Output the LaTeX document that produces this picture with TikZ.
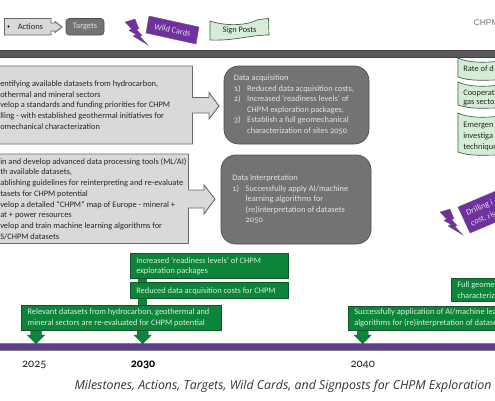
\documentclass[tikz,border=0pt]{standalone}
\usepackage{fontspec}
\setmainfont[Numbers=OldStyle]{Carlito}
\newfontfamily\captionfont{Open Sans}
\newfontfamily\titlefont{Liberation Sans}
\usepackage{tikz}
\definecolor{barGray}{RGB}{89, 89, 89}
\definecolor{actionGray}{RGB}{217, 217, 217}
\definecolor{actionEdge}{RGB}{105, 105, 105}
\definecolor{targetGray}{RGB}{115, 115, 115}
\definecolor{cardPurple}{RGB}{112, 48, 160}
\definecolor{lineBlue}{RGB}{96, 60, 140}
\definecolor{signGreen}{RGB}{213, 236, 214}
\definecolor{signEdge}{RGB}{70, 90, 75}
\definecolor{mileGreen}{RGB}{12, 132, 58}
\definecolor{mileEdge}{RGB}{20, 84, 44}
\definecolor{lightText}{RGB}{226, 226, 226}
\definecolor{mileText}{RGB}{216, 240, 220}
\newcommand{\numitem}[1]{\makebox[10.1pt][l]{#1}}
\tikzset{
  label/.style={inner sep=0pt, anchor=west, font=\fontsize{6.3}{7.95}\selectfont, text=black!85},
  targetlabel/.style={label, align=left, text=lightText},
  milelabel/.style={label, text=mileText},
  actionbox/.style={draw=actionEdge, fill=actionGray, line width=0.7pt},
  targetbox/.style={draw=black!70, fill=targetGray, line width=0.5pt},
  milebox/.style={draw=mileEdge, fill=mileGreen, line width=0.6pt},
  signbox/.style={draw=signEdge, fill=signGreen, line width=0.5pt}
}
\begin{document}
\begin{tikzpicture}[x=0.75pt, y=-0.75pt]
        \useasboundingbox (0,0) rectangle (495,400);
        \clip (0,0) rectangle (495,400);
        \fill[white] (0,0) rectangle (495,400);

        % Legend
        \draw[actionbox] (4.5,18.5) -- (51,18.5) -- (51,23) -- (55,23) -- (55,21.5) -- (62,27)
          -- (55,32.5) -- (55,31) -- (51,31) -- (51,35) -- (4.5,35) -- cycle;
        \fill (8.5,26.5) circle (0.9pt);
        \node[label] (actions) at (17.5,26.5) {Actions};
        \draw[targetbox, rounded corners=2.5pt] (66,18.5) rectangle (104,35);
        \node[label, anchor=center, text=lightText] (targets) at (85,27) {Targets};

        % Lightning bolts
        \foreach \dx/\dy in {0/0, 315/190}
          \fill[cardPurple, draw=black!60, line width=0.2pt, shift={(\dx,\dy)}] (125,22) -- (135,19) -- (139,29) -- (136.5,29.5)
            -- (142,35.5) -- (140,36.5) -- (148,45) -- (133,36) -- (136,34.5) -- (129,30.5) -- (131.5,29) -- cycle;

        % Wild card legend
        \draw[draw=black!60, fill=cardPurple, line width=0.3pt] (146,33) -- (149,16) -- (199,27) -- (196,44) -- cycle;
        \node[label, anchor=center, rotate=-12, text=lightText] (wild) at (172.5,30) {Wild Cards};

        % Sign post legend
        \draw[signbox] (210,21) .. controls (225,26) and (245,26) .. (257,20) .. controls (261,19) and (265,19) .. (268.5,18.5)
          -- (269,35) .. controls (250,35) and (235,41) .. (210,40) -- cycle;
        \node[label, anchor=center] (signs) at (239.5,30) {Sign Posts};
        \node[inner sep=0pt, anchor=west, text=black!55, font=\titlefont\fontsize{6.3}{8}\selectfont] (chpm) at (473.5,22.5) {CHPM};

        % Top bar
        \draw[draw=black!75, fill=barGray, line width=0.4pt] (-5,50.5) rectangle (500,57.5);

        % Actions
        \draw[actionbox] (-5,66) -- (192.5,66) -- (192.5,97.5) -- (209,97.5) -- (209,92.5) -- (219,106)
          -- (209,119) -- (209,113) -- (192.5,113) -- (192.5,144) -- (-5,144) -- cycle;
        \draw[actionbox] (-5,154) -- (188.5,154) -- (188.5,190) -- (204,190) -- (204,185) -- (215,199)
          -- (204,214) -- (204,208) -- (188.5,208) -- (188.5,243.5) -- (-5,243.5) -- cycle;

        \node[label] (a1) at (0,84) {entifying available datasets from hydrocarbon,};
        \node[label] (a2) at (0,94.5) {othermal and mineral sectors};
        \node[label] (a3) at (0,105.3) {velop a standards and funding priorities for CHPM};
        \node[label] (a4) at (0,116) {lling - with established geothermal initiatives for};
        \node[label] (a5) at (0,126.3) {omechanical characterization};

        \node[label] (b1) at (0,161.7) {in and develop advanced data processing tools (ML/AI)};
        \node[label] (b2) at (0,172.2) {th available datasets,};
        \node[label] (b3) at (0,183.8) {ablishing guidelines for reinterpreting and re-evaluate};
        \node[label] (b4) at (0,194.2) {tasets for CHPM potential};
        \node[label] (b5) at (0,205) {velop a detailed “CHPM” map of Europe - mineral +};
        \node[label] (b6) at (0,215.5) {at + power resources};
        \node[label] (b7) at (0,226.3) {velop and train machine learning algorithms for};
        \node[label] (b8) at (0,237) {S/CHPM datasets};

        % Targets
        \draw[targetbox, rounded corners=11pt] (224,66) rectangle (369,144);
        \draw[targetbox, rounded corners=11pt] (221,155) rectangle (371,244);
        \node[targetlabel] (acquire) at (233.5,104.5) {Data acquisition\\
          \numitem{1)}Reduced data acquisition costs,\\
          \numitem{2)}Increased ‘readiness levels’ of\\
          \numitem{}CHPM exploration packages,\\
          \numitem{3)}Establish a full geomechanical\\
          \numitem{}characterization of sites 2050};
        \node[targetlabel] (interpret) at (232,199.3) {Data Interpretation\\
          \numitem{1)}Successfully apply AI/machine\\
          \numitem{}learning algorithms for\\
          \numitem{}(re)interpretation of datasets\\
          \numitem{}2050};

        % Sign posts
        \foreach \top/\bot in {58/80, 82/108, 113/155}
          \draw[signbox] (458,\top) .. controls (468,\top+5) and (485,\top+5) .. (500,\top+3) -- (500,\bot)
            .. controls (485,\bot) and (470,\bot+1.5) .. (458,\bot-3) -- cycle;
        \node[label] (s1) at (463,69) {Rate of d};
        \node[label] (s2) at (463,93) {Cooperat};
        \node[label] (s3) at (463,103) {gas secto};
        \node[label] (s4) at (463,125.5) {Emergen};
        \node[label] (s5) at (463,136) {investiga};
        \node[label] (s6) at (463,147) {technique};

        % Wild card
        \draw[draw=black!60, fill=cardPurple, line width=0.3pt] (458,207) -- (510,185) -- (522,211) -- (470,233) -- cycle;
        \node[label, rotate=23, text=lightText] (w1) at (466.5,213.5) {Drilling i};
        \node[label, rotate=23, text=lightText] (w2) at (471,224) {cost, ris};

        % Timeline
        \draw[draw=black!50, fill=lineBlue, line width=0.5pt] (-5,343.5) rectangle (500,350.5);

        % Milestones
        \foreach \x in {36, 142.7, 362.7}
          \fill[mileGreen, draw=mileEdge, line width=0.3pt] (\x-5.5,329) -- (\x+5.5,329) -- (\x+5.5,335) -- (\x+8.5,335)
            -- (\x,343.7) -- (\x-8.5,335) -- (\x-5.5,335) -- cycle;
        \fill[mileGreen] (138,277) rectangle (147,283);
        \fill[mileGreen] (138,297) rectangle (147,306);

        \draw[milebox] (130.3,253.3) rectangle (288.7,278.3);
        \draw[milebox] (130.3,282) rectangle (288.7,298.3);
        \draw[milebox] (21.7,305.7) rectangle (221.7,330.3);
        \draw[milebox] (348,306) rectangle (500,330);
        \draw[milebox] (451.7,278) rectangle (500,301.7);

        \node[milelabel] (m1) at (136,260.7) {Increased ‘readiness levels’ of CHPM};
        \node[milelabel] (m2) at (136,271.3) {exploration packages};
        \node[milelabel] (m3) at (136,291.3) {Reduced data acquisition costs for CHPM};
        \node[milelabel] (m4) at (27.3,312.7) {Relevant datasets from hydrocarbon, geothermal and};
        \node[milelabel] (m5) at (27.3,323) {mineral sectors are  re-evaluated for CHPM potential};
        \node[milelabel] (m6) at (354,312.7) {Successfully application of AI/machine lea};
        \node[milelabel] (m7) at (354,323) {algorithms for (re)interpretation of datase};
        \node[milelabel] (m8) at (457,285) {Full geome};
        \node[milelabel] (m9) at (457,295.7) {characteriz};

        % Years
        \foreach \x/\yr in {34.3/2025, 362.7/2040}
          \node[label, anchor=center, font=\fontsize{9}{10}\selectfont] (y\yr) at (\x,365) {\yr};
        \node[label, anchor=center, font=\bfseries\fontsize{9}{10}\selectfont, text=black] (y2030) at (143,365) {2030};

        \node[inner sep=0pt, anchor=center, text=black!80, font=\captionfont\itshape\fontsize{9.25}{11}\selectfont] (caption) at (283,386.7)
          {Milestones, Actions, Targets, Wild Cards, and Signposts for CHPM Exploration};
      \end{tikzpicture}
\end{document}
